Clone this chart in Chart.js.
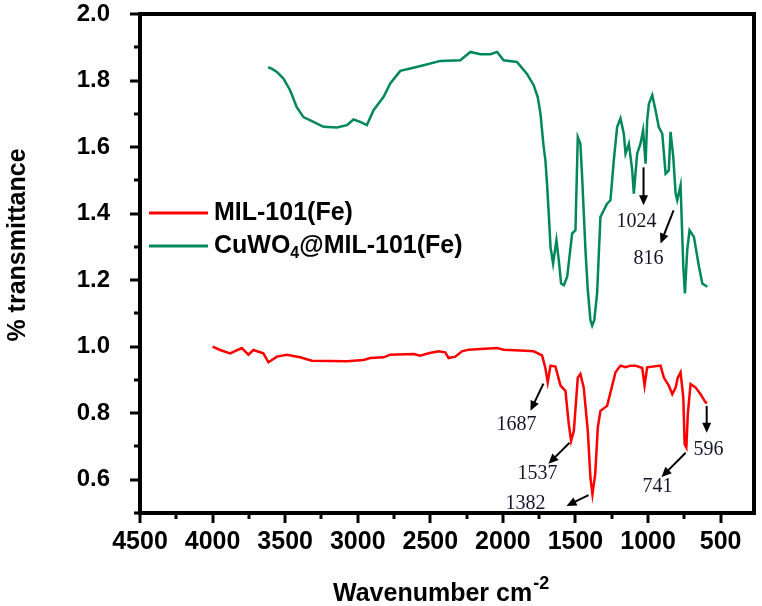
<!DOCTYPE html>
<html>
<head>
<meta charset="utf-8">
<script src="https://cdn.jsdelivr.net/npm/chart.js@4.4.0/dist/chart.umd.min.js"></script>
<style>
html, body { margin: 0; padding: 0; background: #fff; }
</style>
</head>
<body>
<canvas id="ftir" width="762" height="606"></canvas>
<script>
// spectra (wavenumber, transmittance)
const milWn = [4000, 3948, 3879, 3799, 3753, 3719, 3650, 3615, 3557, 3488, 3397, 3316, 3074, 2960, 2914, 2822, 2776, 2615, 2569, 2512, 2443, 2397, 2374, 2328, 2282, 2236, 2040, 1995, 1845, 1788, 1730, 1707, 1691, 1672, 1638, 1603, 1569, 1546, 1530, 1511, 1484, 1466, 1443, 1415, 1397, 1383, 1364, 1346, 1328, 1282, 1259, 1224, 1190, 1155, 1121, 1086, 1040, 1024, 1006, 914, 891, 857, 833, 810, 795, 776, 757, 748, 736, 726, 707, 672, 638, 603, 592];
const milT = [1.000, 0.990, 0.980, 0.996, 0.976, 0.990, 0.980, 0.953, 0.970, 0.976, 0.968, 0.958, 0.956, 0.960, 0.966, 0.968, 0.976, 0.978, 0.973, 0.980, 0.986, 0.983, 0.966, 0.970, 0.986, 0.991, 0.996, 0.991, 0.988, 0.986, 0.974, 0.935, 0.893, 0.943, 0.940, 0.883, 0.867, 0.767, 0.717, 0.747, 0.907, 0.918, 0.877, 0.747, 0.606, 0.556, 0.616, 0.757, 0.807, 0.822, 0.862, 0.923, 0.943, 0.938, 0.943, 0.943, 0.936, 0.883, 0.938, 0.943, 0.907, 0.883, 0.857, 0.877, 0.907, 0.923, 0.847, 0.707, 0.697, 0.797, 0.888, 0.877, 0.857, 0.832, 0.832];

const cuWn = [3617, 3590, 3557, 3512, 3466, 3420, 3374, 3305, 3236, 3144, 3074, 3029, 2983, 2937, 2891, 2822, 2776, 2707, 2638, 2546, 2431, 2293, 2224, 2155, 2086, 2040, 1995, 1903, 1834, 1788, 1760, 1741, 1719, 1707, 1696, 1684, 1672, 1654, 1631, 1615, 1599, 1580, 1557, 1523, 1500, 1484, 1466, 1454, 1431, 1415, 1397, 1385, 1370, 1351, 1328, 1282, 1259, 1236, 1213, 1190, 1167, 1155, 1132, 1109, 1098, 1075, 1052, 1034, 1017, 1006, 994, 971, 948, 926, 902, 879, 857, 845, 826, 810, 799, 776, 757, 746, 730, 714, 684, 649, 626, 592];
const cuT = [1.840, 1.835, 1.826, 1.806, 1.771, 1.720, 1.690, 1.676, 1.661, 1.659, 1.666, 1.683, 1.676, 1.666, 1.711, 1.751, 1.791, 1.829, 1.836, 1.846, 1.859, 1.861, 1.886, 1.879, 1.879, 1.886, 1.861, 1.856, 1.820, 1.786, 1.750, 1.700, 1.600, 1.560, 1.490, 1.400, 1.300, 1.250, 1.320, 1.260, 1.190, 1.185, 1.210, 1.340, 1.350, 1.630, 1.610, 1.510, 1.290, 1.170, 1.080, 1.063, 1.080, 1.160, 1.390, 1.430, 1.440, 1.560, 1.660, 1.686, 1.640, 1.580, 1.610, 1.530, 1.460, 1.580, 1.610, 1.650, 1.550, 1.680, 1.730, 1.756, 1.710, 1.660, 1.640, 1.520, 1.530, 1.646, 1.570, 1.460, 1.440, 1.485, 1.240, 1.160, 1.290, 1.350, 1.330, 1.240, 1.190, 1.180];

const xTicks = [4500, 4000, 3500, 3000, 2500, 2000, 1500, 1000, 500];
const yTicks = [0.6, 0.8, 1.0, 1.2, 1.4, 1.6, 1.8, 2.0];

// peak labels: arrow from (wn0,t0) to (wn1,t1), text at (wnL,tL)
const peakText = ['1024', '816', '1687', '1537', '1382', '741', '596'];
const peakArrow = [
    [1031, 1.539, 1031, 1.425],
    [824, 1.410, 914, 1.310],
    [1721, 0.889, 1810, 0.807],
    [1541, 0.711, 1686, 0.648],
    [1410, 0.554, 1562, 0.521],
    [741, 0.681, 907, 0.608],
    [596, 0.822, 596, 0.741]
];
const peakLabelAt = [
    [1079, 1.377], [996, 1.265], [1907, 0.765], [1762, 0.617], [1845, 0.527], [934, 0.578], [583, 0.690]
];

const red = '#ff0000';
const green = '#00875a';
const sans = '"Liberation Sans", Arial, sans-serif';

const toXY = (wn, t) => wn.map((v, i) => ({ x: v, y: t[i] }));

function arrow(ctx, x0, y0, x1, y1) {
    const a = Math.atan2(y1 - y0, x1 - x0);
    const hl = 10, hw = 4.5;
    ctx.beginPath();
    ctx.moveTo(x0, y0);
    ctx.lineTo(x1 - Math.cos(a) * hl * 0.8, y1 - Math.sin(a) * hl * 0.8);
    ctx.stroke();
    ctx.beginPath();
    ctx.moveTo(x1, y1);
    ctx.lineTo(x1 - Math.cos(a) * hl + Math.sin(a) * hw, y1 - Math.sin(a) * hl - Math.cos(a) * hw);
    ctx.lineTo(x1 - Math.cos(a) * hl - Math.sin(a) * hw, y1 - Math.sin(a) * hl + Math.cos(a) * hw);
    ctx.closePath();
    ctx.fill();
}

const decor = {
    id: 'decor',
    afterDraw(chart) {
        const { ctx, chartArea: a, scales: { x, y } } = chart;
        ctx.save();
        ctx.strokeStyle = '#000';
        ctx.fillStyle = '#000';

        // frame
        ctx.lineWidth = 4;
        ctx.strokeRect(a.left, a.top, a.right - a.left, a.bottom - a.top);

        // tick marks, majors + minors
        ctx.lineWidth = 3;
        for (let v = 500; v <= 4500; v += 250) {
            const px = Math.round(x.getPixelForValue(v));
            const len = v % 500 === 0 ? 10 : 6;
            ctx.beginPath();
            ctx.moveTo(px, a.bottom);
            ctx.lineTo(px, a.bottom + len);
            ctx.stroke();
        }
        for (let k = 5; k <= 20; k++) {
            const py = Math.round(y.getPixelForValue(k / 10));
            const len = k % 2 === 0 ? 10 : 6;
            ctx.beginPath();
            ctx.moveTo(a.left, py);
            ctx.lineTo(a.left - len, py);
            ctx.stroke();
        }

        // axis titles
        ctx.font = 'bold 25px ' + sans;
        ctx.textBaseline = 'alphabetic';
        ctx.textAlign = 'left';
        const xt = 'Wavenumber cm';
        const w = ctx.measureText(xt).width;
        const tx = 333, ty = 601;
        ctx.fillText(xt, tx, ty);
        ctx.font = 'bold 18px ' + sans;
        ctx.fillText('-2', tx + w + 1, ty - 12);

        ctx.save();
        ctx.translate(25, 245);
        ctx.rotate(-Math.PI / 2);
        ctx.font = 'bold 25px ' + sans;
        ctx.textAlign = 'center';
        ctx.fillText('% transmittance', 0, 0);
        ctx.restore();

        // legend
        const lx = a.left + 9, ly = [213, 246];
        const sets = chart.data.datasets;
        ctx.lineWidth = 3;
        sets.forEach((ds, i) => {
            ctx.strokeStyle = ds.borderColor;
            ctx.beginPath();
            ctx.moveTo(lx, ly[i]);
            ctx.lineTo(lx + 59, ly[i]);
            ctx.stroke();
        });
        ctx.fillStyle = '#000';
        ctx.textBaseline = 'middle';
        ctx.textAlign = 'left';
        const tx0 = lx + 65;
        ctx.font = 'bold 25px ' + sans;
        ctx.fillText('MIL-101(Fe)', tx0, ly[0]);
        let cx = tx0;
        ctx.fillText('CuWO', cx, ly[1]);
        cx += ctx.measureText('CuWO').width;
        ctx.font = 'bold 16px ' + sans;
        ctx.fillText('4', cx, ly[1] + 8);
        cx += ctx.measureText('4').width;
        ctx.font = 'bold 25px ' + sans;
        ctx.fillText('@MIL-101(Fe)', cx, ly[1]);

        // peak labels
        ctx.strokeStyle = '#000';
        ctx.fillStyle = '#000';
        ctx.lineWidth = 2;
        peakArrow.forEach(p => {
            arrow(ctx, x.getPixelForValue(p[0]), y.getPixelForValue(p[1]),
                x.getPixelForValue(p[2]), y.getPixelForValue(p[3]));
        });
        ctx.font = '20px "Liberation Serif", "Times New Roman", serif';
        ctx.fillStyle = '#141428';
        ctx.textAlign = 'center';
        ctx.textBaseline = 'middle';
        peakText.forEach((t, i) => {
            ctx.fillText(t, x.getPixelForValue(peakLabelAt[i][0]), y.getPixelForValue(peakLabelAt[i][1]));
        });
        ctx.restore();
    }
};

new Chart(document.getElementById('ftir'), {
    type: 'line',
    data: {
        datasets: [
            {
                label: 'MIL-101(Fe)',
                data: toXY(milWn, milT),
                borderColor: red,
                borderWidth: 2.5,
                pointRadius: 0,
                tension: 0,
            },
            {
                label: 'CuWO4@MIL-101(Fe)',
                data: toXY(cuWn, cuT),
                borderColor: green,
                borderWidth: 2.5,
                pointRadius: 0,
                tension: 0,
            }
        ]
    },
    options: {
        responsive: false,
        animation: false,
        layout: { padding: { top: 14, right: 8, left: 0, bottom: 0 } },
        plugins: {
            legend: { display: false },
            tooltip: { enabled: false }
        },
        scales: {
            x: {
                type: 'linear',
                reverse: true,
                min: 270,
                max: 4500,
                afterFit: s => { s.height = 93; s.paddingLeft = 0; s.paddingRight = 0; },
                afterBuildTicks: s => { s.ticks = xTicks.map(v => ({ value: v })); },
                grid: { display: false },
                border: { display: false },
                ticks: {
                    color: '#000',
                    font: { family: sans, size: 25, weight: 'bold' },
                    padding: 6,
                    maxRotation: 0,
                    autoSkip: false,
                    callback: v => String(v)
                }
            },
            y: {
                min: 0.5,
                max: 2.0,
                afterFit: s => { s.width = 140; s.paddingTop = 0; s.paddingBottom = 0; },
                afterBuildTicks: s => { s.ticks = yTicks.map(v => ({ value: v })); },
                grid: { display: false },
                border: { display: false },
                ticks: {
                    color: '#000',
                    font: { family: sans, size: 24, weight: 'bold' },
                    padding: 22,
                    callback: v => v.toFixed(1)
                }
            }
        }
    },
    plugins: [decor]
});
</script>
</body>
</html>
